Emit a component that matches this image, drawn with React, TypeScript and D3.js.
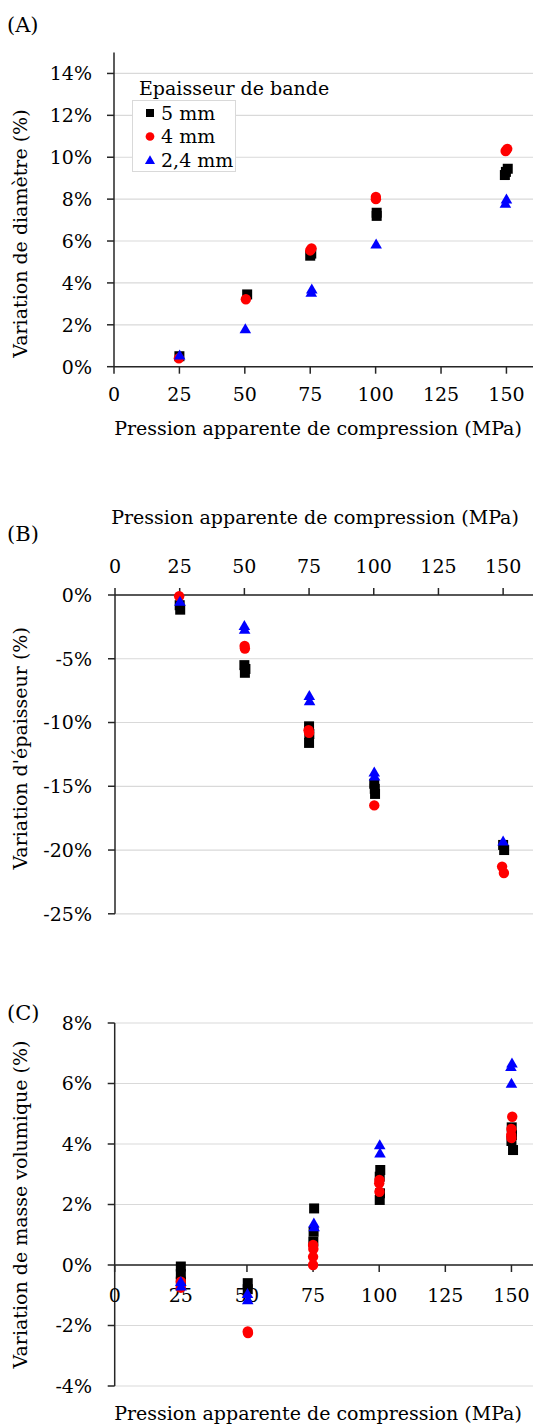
import React from "react";
import * as d3 from "d3";

// ---------- data ----------
const seriesNames = ["5 mm", "4 mm", "2,4 mm"];
const seriesColors = ["#000000", "#ff0000", "#0000ff"];

// Panel A : Variation de diamètre (%)
const diamP5 = [25, 50.9, 75, 75.4, 100.4, 100.4, 149.4, 149.8, 150.5];
const diam5 = [0.5, 3.45, 5.3, 5.4, 7.2, 7.35, 9.15, 9.3, 9.45];
const diamP4 = [24.8, 50.4, 75, 75.5, 100.1, 100.1, 149.7, 150.3];
const diam4 = [0.4, 3.22, 5.55, 5.65, 8.0, 8.1, 10.3, 10.4];
const diamP24 = [25.1, 50.2, 75.4, 75.6, 100.2, 149.6, 150];
const diam24 = [0.55, 1.8, 3.55, 3.7, 5.85, 7.8, 8.0];

// Panel B : Variation d'épaisseur (%)
const epP5 = [25, 25.2, 50, 50.4, 50.2, 75, 75.1, 75, 100.2, 100.4, 100.5, 150, 150.4];
const ep5 = [-0.8, -1.15, -5.5, -5.8, -6.1, -10.3, -10.9, -11.6, -14.8, -15.2, -15.6, -19.6, -20.0];
const epP4 = [24.8, 50.1, 50.2, 74.8, 75, 100.2, 149.6, 150.3];
const ep4 = [-0.1, -4.0, -4.2, -10.6, -10.8, -16.5, -21.3, -21.8];
const epP24 = [25.1, 50, 50.1, 75.1, 75.2, 100.2, 100.3, 150];
const ep24 = [-0.5, -2.4, -2.7, -7.9, -8.3, -13.9, -14.2, -19.3];

// Panel C : Variation de masse volumique (%)
const mvP5 = [25, 25, 25, 50.3, 50.3, 75.4, 75.2, 75.1, 100.4, 100.2, 100.3, 100.2, 150.1, 150.2, 150, 150.6];
const mv5 = [-0.05, -0.3, -0.55, -0.6, -0.8, 1.87, 1.1, 0.77, 3.14, 2.92, 2.37, 2.15, 4.55, 4.3, 4.1, 3.8];
const mvP4 = [25, 25, 50.3, 50.4, 75, 75.1, 75, 75, 100.1, 100, 100.1, 150.3, 150, 149.9, 150];
const mv4 = [-0.55, -0.75, -2.2, -2.25, 0.66, 0.53, 0.27, 0.0, 2.81, 2.7, 2.42, 4.9, 4.5, 4.3, 4.2];
const mvP24 = [25, 25.1, 50.2, 50.3, 75.3, 75.4, 100.2, 100.3, 149.8, 150.2, 150];
const mv24 = [-0.55, -0.7, -0.95, -1.15, 1.38, 1.26, 3.97, 3.7, 6.56, 6.67, 6.0];

// Ticks
const xTicks = [0, 25, 50, 75, 100, 125, 150];
const yTicksA = [0, 2, 4, 6, 8, 10, 12, 14];
const yTicksB = [0, -5, -10, -15, -20, -25];
const yTicksC = [-4, -2, 0, 2, 4, 6, 8];

const xTitle = "Pression apparente de compression (MPa)";
const FONT = "'DejaVu Serif', serif";
const FS = 19;
const GRID = "#d9d9d9";
const AXIS = "#262626";

type Pt = { x: number; y: number };
const zip = (xs: number[], ys: number[]): Pt[] => xs.map((x, i) => ({ x, y: ys[i] }));

const symbols = [d3.symbolSquare, d3.symbolCircle, d3.symbolTriangle];
const sizes = [100, 85, 58];

function Markers({ data, sx, sy }: { data: Pt[][]; sx: any; sy: any }) {
  return (
    <g>
      {data.map((pts, si) => {
        const path = d3.symbol().type(symbols[si]).size(sizes[si])() as string;
        return pts.map((p, i) => (
          <path
            key={si + "-" + i}
            d={path}
            transform={`translate(${sx(p.x)},${sy(p.y) + (si === 2 ? 1 : 0)})`}
            fill={seriesColors[si]}
          />
        ));
      })}
    </g>
  );
}

function YAxis({ sy, ticks, x0, x1, fmt, showGrid }: any) {
  return (
    <g>
      {showGrid &&
        ticks.map((t: number) => (
          <line key={"g" + t} x1={x0} x2={x1} y1={sy(t)} y2={sy(t)} stroke={GRID} strokeWidth={1.2} />
        ))}
      {ticks.map((t: number) => (
        <g key={"t" + t}>
          <line x1={x0 - 7} x2={x0} y1={sy(t)} y2={sy(t)} stroke={AXIS} strokeWidth={1.5} />
          <text x={92} y={sy(t)} dy="0.36em" textAnchor="end" fontFamily={FONT} fontSize={FS} fill="#000">
            {fmt(t)}
          </text>
        </g>
      ))}
    </g>
  );
}

export default function App() {
  const pct = (t: number) => `${t}%`;

  // ---- Panel A ----
  const xA = d3.scaleLinear().domain([0, 160]).range([114, 532.6]);
  const yA = d3.scaleLinear().domain([0, 15]).range([366.7, 52.5]);
  // ---- Panel B ----
  const xB = d3.scaleLinear().domain([0, 160]).range([115, 529]);
  const yB = d3.scaleLinear().domain([-25, 0]).range([913.8, 595]);
  // ---- Panel C ----
  const xC = d3.scaleLinear().domain([0, 160]).range([114.7, 537.9]);
  const yC = d3.scaleLinear().domain([-4, 8]).range([1386, 1023]);

  const dataA = [zip(diamP5, diam5), zip(diamP4, diam4), zip(diamP24, diam24)];
  const dataB = [zip(epP5, ep5), zip(epP4, ep4), zip(epP24, ep24)];
  const dataC = [zip(mvP5, mv5), zip(mvP4, mv4), zip(mvP24, mv24)];

  const W = 533;
  const PL = 21;

  return (
    <svg
      width={W}
      height={1427}
      style={{ position: "absolute", left: 0, top: 0, background: "#fff" }}
      fontFamily={FONT}
    >
      <rect x={0} y={0} width={W} height={1427} fill="#fff" />

      {/* ================= Panel A ================= */}
      <text x={7} y={32} fontSize={PL} fontFamily={FONT}>(A)</text>
      <YAxis sy={yA} ticks={yTicksA} x0={xA(0)} x1={W} fmt={pct} showGrid />
      <line x1={xA(0)} x2={xA(0)} y1={yA(15)} y2={yA(0)} stroke={AXIS} strokeWidth={1.5} />
      <line x1={xA(0)} x2={W} y1={yA(0)} y2={yA(0)} stroke={AXIS} strokeWidth={1.5} />
      {xTicks.map((t) => (
        <g key={"ax" + t}>
          <line x1={xA(t)} x2={xA(t)} y1={yA(0)} y2={yA(0) + 7} stroke={AXIS} strokeWidth={1.5} />
          <text x={xA(t)} y={401} textAnchor="middle" fontSize={FS} fontFamily={FONT}>{t}</text>
        </g>
      ))}
      <text x={318} y={435} textAnchor="middle" fontSize={FS} fontFamily={FONT}>{xTitle}</text>
      <text transform={`translate(27,${(yA(15) + yA(0)) / 2 + 24}) rotate(-90)`} textAnchor="middle" fontSize={FS} fontFamily={FONT}>
        Variation de diamètre (%)
      </text>
      <Markers data={dataA} sx={xA} sy={yA} />

      {/* Legend */}
      <text x={139} y={95} fontSize={FS} fontFamily={FONT}>Epaisseur de bande</text>
      <rect x={132.5} y={100.5} width={103} height={71} fill="#fff" stroke={GRID} strokeWidth={1} />
      {seriesNames.map((n, i) => {
        const path = d3.symbol().type(symbols[i]).size([64, 60, 44][i])() as string;
        const cy = 113 + i * 23.5;
        return (
          <g key={"lg" + i}>
            <path d={path} transform={`translate(150,${cy + (i === 2 ? 1 : 0)})`} fill={seriesColors[i]} />
            <text x={161} y={cy} dy="0.36em" fontSize={FS} fontFamily={FONT}>{n}</text>
          </g>
        );
      })}

      {/* ================= Panel B ================= */}
      <text x={7} y={541} fontSize={PL} fontFamily={FONT}>(B)</text>
      <text x={315} y={524} textAnchor="middle" fontSize={FS} fontFamily={FONT}>{xTitle}</text>
      <YAxis sy={yB} ticks={yTicksB} x0={xB(0)} x1={W} fmt={pct} showGrid />
      <line x1={xB(0)} x2={xB(0)} y1={yB(0)} y2={yB(-25)} stroke={AXIS} strokeWidth={1.5} />
      <line x1={xB(0)} x2={W} y1={yB(0)} y2={yB(0)} stroke={AXIS} strokeWidth={1.5} />
      {xTicks.map((t) => (
        <g key={"bx" + t}>
          <line x1={xB(t)} x2={xB(t)} y1={yB(0) - 7} y2={yB(0)} stroke={AXIS} strokeWidth={1.5} />
          <text x={xB(t)} y={573} textAnchor="middle" fontSize={FS} fontFamily={FONT}>{t}</text>
        </g>
      ))}
      <text transform={`translate(27,${(yB(0) + yB(-25)) / 2 - 6}) rotate(-90)`} textAnchor="middle" fontSize={FS} fontFamily={FONT}>
        Variation d'épaisseur (%)
      </text>
      <Markers data={dataB} sx={xB} sy={yB} />

      {/* ================= Panel C ================= */}
      <text x={7} y={1020} fontSize={PL} fontFamily={FONT}>(C)</text>
      <YAxis sy={yC} ticks={yTicksC} x0={xC(0)} x1={W} fmt={pct} showGrid />
      <line x1={xC(0)} x2={xC(0)} y1={yC(8)} y2={yC(-4)} stroke={AXIS} strokeWidth={1.5} />
      <line x1={xC(0)} x2={W} y1={yC(0)} y2={yC(0)} stroke={AXIS} strokeWidth={1.5} />
      {xTicks.map((t) => (
        <g key={"cx" + t}>
          <line x1={xC(t)} x2={xC(t)} y1={yC(0)} y2={yC(0) + 7} stroke={AXIS} strokeWidth={1.5} />
          <text x={xC(t)} y={1302} textAnchor="middle" fontSize={FS} fontFamily={FONT}>{t}</text>
        </g>
      ))}
      <text x={318} y={1420} textAnchor="middle" fontSize={FS} fontFamily={FONT}>{xTitle}</text>
      <text transform={`translate(27,${(yC(8) + yC(-4)) / 2}) rotate(-90)`} textAnchor="middle" fontSize={FS} fontFamily={FONT}>
        Variation de masse volumique (%)
      </text>
      <Markers data={dataC} sx={xC} sy={yC} />
    </svg>
  );
}
